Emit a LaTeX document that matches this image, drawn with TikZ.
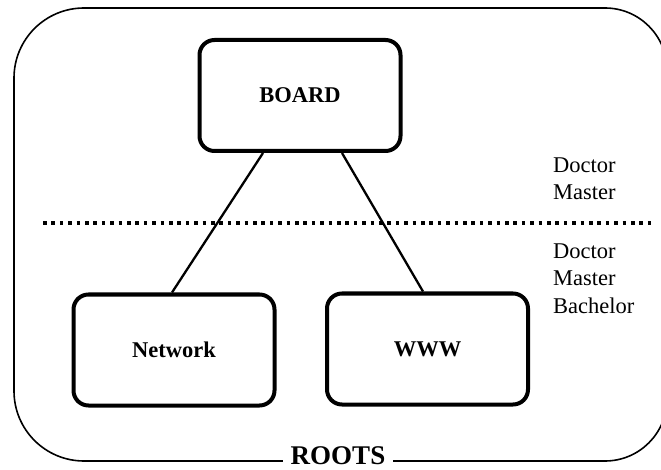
\documentclass[tikz,border=0pt]{standalone}
\usepackage{fontspec}
\setmainfont{Liberation Serif}
\usetikzlibrary{calc}
\begin{document}
\begin{tikzpicture}[x=1pt,y=-1pt,
  box/.style={draw, line width=4pt, rounded corners=15pt, minimum width=201pt, minimum height=111pt, inner sep=0pt, font=\fontsize{22.5}{26}\selectfont\bfseries},
  link/.style={line width=2.3pt},
  lbl/.style={anchor=base west, inner sep=0pt, font=\fontsize{22.5}{26}\selectfont},
  frame/.style={line width=1.6pt},
  sep/.style={line width=3.6pt, dash pattern=on 3.5pt off 4.9pt},
  title/.style={fill=white, inner xsep=8pt, inner ysep=2pt, font=\fontsize{27}{30}\selectfont\bfseries}]
\useasboundingbox (0,0) rectangle (661,470);
\draw[frame] (340,8) [rounded corners=62pt] -- (667,8) -- (667,461) -- (340,461) [rounded corners=70pt] -- (14,461) -- (14,8) -- cycle;
\node[title] (roots) at (338,456) {ROOTS};
\node[box] (board) at (300,95.5) {BOARD};
\node[box] (net) at (174,350) {Network};
\node[box] (www) at (427.5,349) {WWW};
\coordinate (dl) at (43,223);
\coordinate (dr) at (655,223);
\draw[sep] (dl) -- (dr);
\draw[link] ([xshift=-37pt]board.south) -- ([xshift=-2pt]net.north);
\draw[link] ([xshift=42pt]board.south) -- ([xshift=-4.5pt]www.north);
\node[lbl] (d1) at (553,173) {Doctor};
\node[lbl] (m1) at (553,200) {Master};
\node[lbl] (d2) at (553,259) {Doctor};
\node[lbl] (m2) at (553,286) {Master};
\node[lbl] (b2) at (553,313) {Bachelor};
\end{tikzpicture}
\end{document}
